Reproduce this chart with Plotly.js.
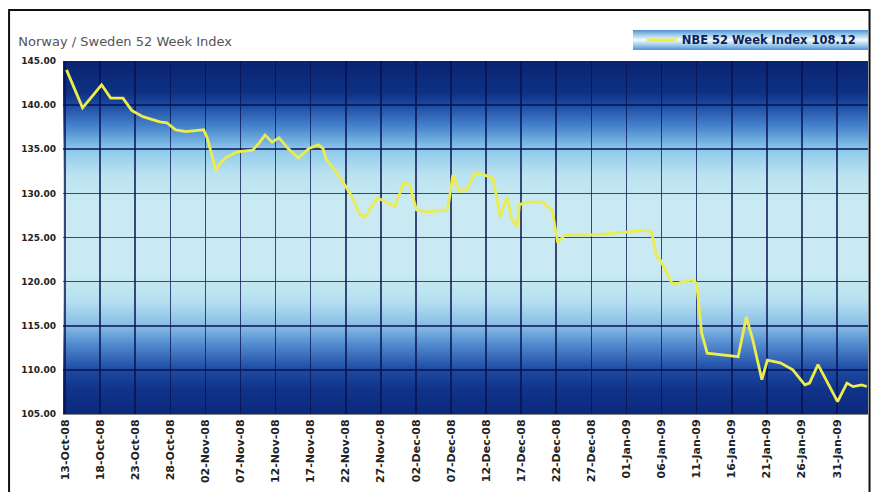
<!DOCTYPE html>
<html>
<head>
<meta charset="utf-8">
<script src="https://cdn.plot.ly/plotly-3.0.1.min.js"></script>
<style>
html,body{margin:0;padding:0;background:#fff;}
#chart{width:871px;height:492px;}
</style>
</head>
<body>
<div id="chart"></div>
<script>
// ---- data ----
var chartTitle = "Norway / Sweden 52 Week Index";
var seriesName = "NBE 52 Week Index 108.12";
var dates = [
  "2008-10-13 05:00","2008-10-15 12:00","2008-10-18 05:00","2008-10-19 12:00","2008-10-21 06:00",
  "2008-10-22 12:00","2008-10-24 02:00","2008-10-26 12:00","2008-10-27 12:00","2008-10-28 18:00",
  "2008-10-30 06:00","2008-11-01 18:00","2008-11-02 06:00","2008-11-03 12:00","2008-11-04 02:00",
  "2008-11-05 00:00","2008-11-06 12:00","2008-11-08 18:00","2008-11-09 18:00","2008-11-10 12:00",
  "2008-11-11 12:00","2008-11-12 12:00","2008-11-13 18:00","2008-11-15 06:00","2008-11-16 18:00",
  "2008-11-18 02:00","2008-11-18 18:00","2008-11-19 06:00","2008-11-20 18:00","2008-11-22 02:00",
  "2008-11-23 02:00","2008-11-24 00:00","2008-11-24 18:00","2008-11-26 12:00","2008-11-29 00:00",
  "2008-11-30 06:00","2008-12-01 02:00","2008-12-02 02:00","2008-12-03 12:00","2008-12-06 10:00",
  "2008-12-06 18:00","2008-12-07 06:00","2008-12-08 06:00","2008-12-09 06:00","2008-12-10 10:00",
  "2008-12-11 18:00","2008-12-13 00:00","2008-12-14 00:00","2008-12-15 00:00","2008-12-15 14:00",
  "2008-12-16 10:00","2008-12-16 18:00","2008-12-17 12:00","2008-12-20 02:00","2008-12-21 10:00",
  "2008-12-22 05:00","2008-12-23 05:00","2008-12-27 05:00","2009-01-01 00:00","2009-01-03 22:00",
  "2009-01-04 14:00","2009-01-05 07:00","2009-01-05 19:00","2009-01-06 12:00","2009-01-07 12:00",
  "2009-01-08 07:00","2009-01-10 07:00","2009-01-11 00:00","2009-01-11 17:00","2009-01-12 12:00",
  "2009-01-14 17:00","2009-01-16 22:00","2009-01-18 02:00","2009-01-19 00:00","2009-01-20 07:00",
  "2009-01-21 02:00","2009-01-22 22:00","2009-01-24 17:00","2009-01-26 10:00","2009-01-27 02:00",
  "2009-01-28 07:00","2009-01-29 17:00","2009-01-31 02:00","2009-02-01 10:00","2009-02-02 07:00",
  "2009-02-03 12:00","2009-02-04 06:00"
];
var values = [
  144.0,139.7,142.3,140.8,140.8,
  139.4,138.7,138.1,138.0,137.2,
  137.0,137.2,136.3,132.6,133.4,
  134.1,134.7,134.9,135.8,136.6,
  135.8,136.3,135.1,134.0,135.1,
  135.5,135.1,133.8,132.3,130.7,
  129.3,127.6,127.3,129.5,128.5,
  131.2,131.0,128.1,127.9,128.1,
  129.3,132.1,130.2,130.4,132.3,
  132.1,131.7,127.3,129.6,127.3,
  126.2,128.7,129.0,129.0,128.1,
  124.4,125.3,125.3,125.6,125.8,
  125.6,122.8,122.5,121.3,119.8,
  119.8,120.2,119.8,114.2,111.9,
  111.7,111.5,116.0,113.4,108.9,
  111.1,110.8,110.0,108.3,108.5,
  110.6,108.5,106.4,108.5,108.1,
  108.3,108.12
];
var yTickValues = [105,110,115,120,125,130,135,140,145];

// ---- background gradients (style only) ----
function svgGradient(stops, w, h){
  var s = '<svg xmlns="http://www.w3.org/2000/svg" width="'+w+'" height="'+h+'" viewBox="0 0 '+w+' '+h+'" preserveAspectRatio="none">'+
    '<defs><linearGradient id="g" x1="0" y1="0" x2="0" y2="1">';
  stops.forEach(function(st){ s += '<stop offset="'+st[0]+'" stop-color="'+st[1]+'"/>'; });
  s += '</linearGradient></defs><rect x="0" y="0" width="'+w+'" height="'+h+'" fill="url(#g)"/></svg>';
  return 'data:image/svg+xml;charset=utf-8,' + encodeURIComponent(s);
}
var plotGrad = svgGradient([
  [0,'#0a2470'],[0.09,'#0e3184'],[0.125,'#1c4aa2'],[0.19,'#4a88cf'],[0.25,'#8cc8ea'],
  [0.32,'#b9e2f0'],[0.40,'#c9eaf2'],[0.60,'#c9eaf2'],[0.68,'#b6e0f0'],[0.75,'#86bde6'],
  [0.81,'#4d84cb'],[0.875,'#1d4aa2'],[0.93,'#10338a'],[1,'#0b2a7c']
], 100, 100);
var legendGrad = svgGradient([
  [0,'#4f8fd2'],[0.2,'#8ec3e8'],[0.5,'#f2fafd'],[0.8,'#8ec3e8'],[1,'#4f8fd2']
], 100, 20);

var trace = {
  x: dates, y: values, type: 'scatter', mode: 'lines',
  name: seriesName,
  line: {color: '#ecec4e', width: 2.8, shape: 'linear'},
  hoverinfo: 'skip'
};

var tickFont = {family: 'DejaVu Sans, Verdana, sans-serif', size: 9, color: '#222', weight: 'bold'};

var layout = {
  width: 871, height: 492,
  margin: {l: 63, r: 3, t: 61, b: 78, pad: 0},
  paper_bgcolor: '#ffffff',
  plot_bgcolor: 'rgba(0,0,0,0)',
  title: {
    text: chartTitle,
    xref: 'container', yref: 'container',
    x: 0.021, xanchor: 'left', y: 0.915, yanchor: 'middle',
    font: {family: 'DejaVu Sans, Verdana, sans-serif', size: 13, color: '#555'}
  },
  xaxis: {
    type: 'date',
    range: ['2008-10-12 17:00', '2009-02-04 10:00'],
    tick0: '2008-10-13', dtick: 5 * 86400000,
    tickformat: '%d-%b-%y', tickangle: -90,
    tickfont: {family: 'DejaVu Sans, Verdana, sans-serif', size: 11, color: '#222', weight: 'bold'},
    showgrid: true, gridcolor: 'rgba(8,18,80,0.75)', gridwidth: 1.6,
    showline: true, linecolor: '#8a8a8a', linewidth: 1,
    ticks: '', zeroline: false, fixedrange: true
  },
  yaxis: {
    range: [105, 145],
    tickvals: yTickValues, tickformat: '.2f',
    tickfont: tickFont, ticklabelstandoff: 6,
    showgrid: true, gridcolor: 'rgba(8,18,80,0.75)', gridwidth: 1.6,
    showline: false, ticks: '', zeroline: false, fixedrange: true
  },
  showlegend: true,
  legend: {
    x: 0.719, xanchor: 'left', y: 1.0595, yanchor: 'middle',
    bgcolor: 'rgba(0,0,0,0)', borderwidth: 0,
    font: {family: 'DejaVu Sans, Verdana, sans-serif', size: 11.5, color: '#0c1f5c', weight: 'bold'},
    itemwidth: 30
  },
  images: [
    {source: plotGrad, xref: 'paper', yref: 'paper', x: 0, y: 1, sizex: 1, sizey: 1,
     xanchor: 'left', yanchor: 'top', sizing: 'stretch', layer: 'below'},
    {source: legendGrad, xref: 'paper', yref: 'paper', x: 0.708, y: 1.088, sizex: 0.292, sizey: 0.0567,
     xanchor: 'left', yanchor: 'top', sizing: 'stretch', layer: 'above'}
  ],
  shapes: [
    {type: 'rect', xref: 'paper', yref: 'paper', x0: -0.067, x1: 1.0019, y0: -0.25, y1: 1.1445,
     line: {color: '#111', width: 2}, fillcolor: 'rgba(0,0,0,0)', layer: 'above'}
  ]
};

Plotly.newPlot('chart', [trace], layout, {staticPlot: true, displayModeBar: false});
</script>
</body>
</html>
